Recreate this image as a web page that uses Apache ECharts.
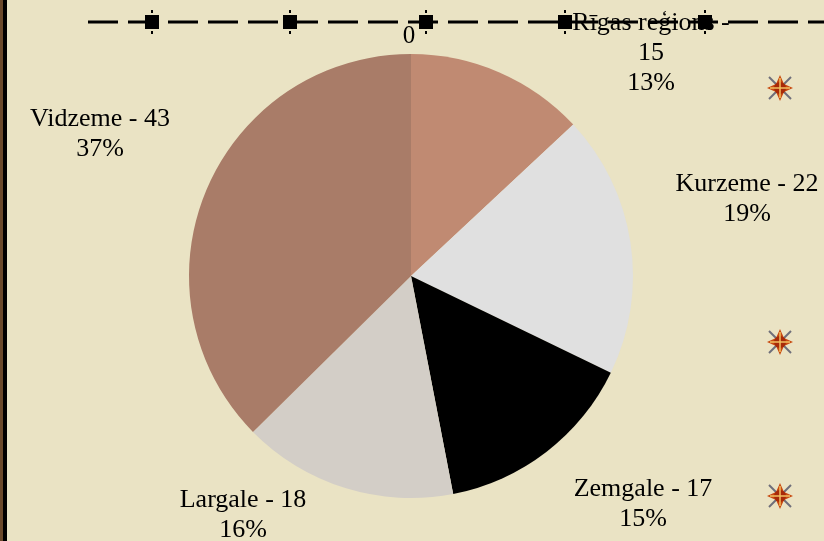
<!DOCTYPE html>
<html>
<head>
<meta charset="utf-8">
<script src="https://cdn.jsdelivr.net/npm/echarts@6/dist/echarts.min.js"></script>
<style>
html,body{margin:0;padding:0;background:#EAE3C4;}
#chart{width:824px;height:541px;}
</style>
</head>
<body>
<div id="chart"></div>
<script>
// ---- data ----
var regions = ['Rīgas reģions', 'Kurzeme', 'Zemgale', 'Largale', 'Vidzeme'];
var counts = [15, 22, 17, 18, 43];
var sliceColors = ['#C08A72', '#E0E0E0', '#000000', '#D3CEC7', '#A97C68'];
var axisZeroLabel = '0';

// ---- layout (not data) ----
var labelCenters = [[651, 53], [747, 199], [643, 504], [243, 515], [100, 134]];
var markerXs = [152, 290, 426, 565, 705];
var starPositions = [[780, 88], [780, 342], [780, 496]];

var chart = echarts.init(document.getElementById('chart'));

var graphics = [];
// left border
graphics.push({type:'rect', shape:{x:0,y:0,width:3,height:541}, style:{fill:'#6b4a2c'}, z:10});
graphics.push({type:'rect', shape:{x:3,y:0,width:4,height:541}, style:{fill:'#000'}, z:10});
// dashed line
graphics.push({type:'line', shape:{x1:88,y1:22,x2:824,y2:22}, style:{stroke:'#000', lineWidth:3, lineDash:[30,10]}, z:10});
markerXs.forEach(function(x){
  graphics.push({type:'rect', shape:{x:x-7,y:15,width:14,height:14}, style:{fill:'#000'}, z:11});
  graphics.push({type:'rect', shape:{x:x-1,y:10,width:2,height:3}, style:{fill:'#000'}, z:11});
  graphics.push({type:'rect', shape:{x:x-1,y:31,width:2,height:3}, style:{fill:'#000'}, z:11});
});
graphics.push({type:'text', x:409, y:36, style:{text:axisZeroLabel, font:'25px "Liberation Serif", serif', fill:'#000', align:'center', verticalAlign:'middle'}, z:12});
// stars
starPositions.forEach(function(p){
  var cx=p[0], cy=p[1];
  graphics.push({type:'group', x:cx, y:cy, z:12, children:[
    {type:'line', shape:{x1:-11,y1:-11,x2:11,y2:11}, style:{stroke:'#6e6e7a', lineWidth:2}},
    {type:'line', shape:{x1:-11,y1:11,x2:11,y2:-11}, style:{stroke:'#6e6e7a', lineWidth:2}},
    {type:'polygon', shape:{points:[[0,-13],[4,-4],[13,0],[4,4],[0,13],[-4,4],[-13,0],[-4,-4]]}, style:{fill:'#C84A10'}},
    {type:'circle', shape:{cx:0,cy:0,r:6}, style:{fill:'#A82A08'}},
    {type:'line', shape:{x1:-10,y1:0,x2:10,y2:0}, style:{stroke:'#F2C060', lineWidth:1.5}},
    {type:'line', shape:{x1:0,y1:-10,x2:0,y2:10}, style:{stroke:'#F2C060', lineWidth:1.5}}
  ]});
});

var seriesData = regions.map(function(n,i){
  return {name:n, value:counts[i], itemStyle:{color:sliceColors[i]}};
});

chart.setOption({
  backgroundColor:'#EAE3C4',
  animation:false,
  graphic: graphics,
  series:[{
    type:'pie',
    center:[411,276],
    radius:[0,222],
    startAngle:90,
    clockwise:true,
    percentPrecision:0,
    data: seriesData,
    itemStyle:{borderWidth:0},
    emphasis:{disabled:true},
    label:{
      show:true,
      position:'outside',
      color:'#000',
      fontFamily:'"Liberation Serif", serif',
      fontSize:26,
      lineHeight:30,
      align:'center',
      overflow:'none',
      formatter:function(p){
        if (p.name.length > 10) return p.name + ' -\n' + p.value + '\n' + p.percent + '%';
        return p.name + ' - ' + p.value + '\n' + p.percent + '%';
      }
    },
    labelLine:{show:false},
    labelLayout:function(params){
      var c = labelCenters[params.dataIndex];
      return {x:c[0], y:c[1], align:'center', verticalAlign:'middle', hideOverlap:false, moveOverlap:null};
    }
  }]
});
</script>
</body>
</html>
